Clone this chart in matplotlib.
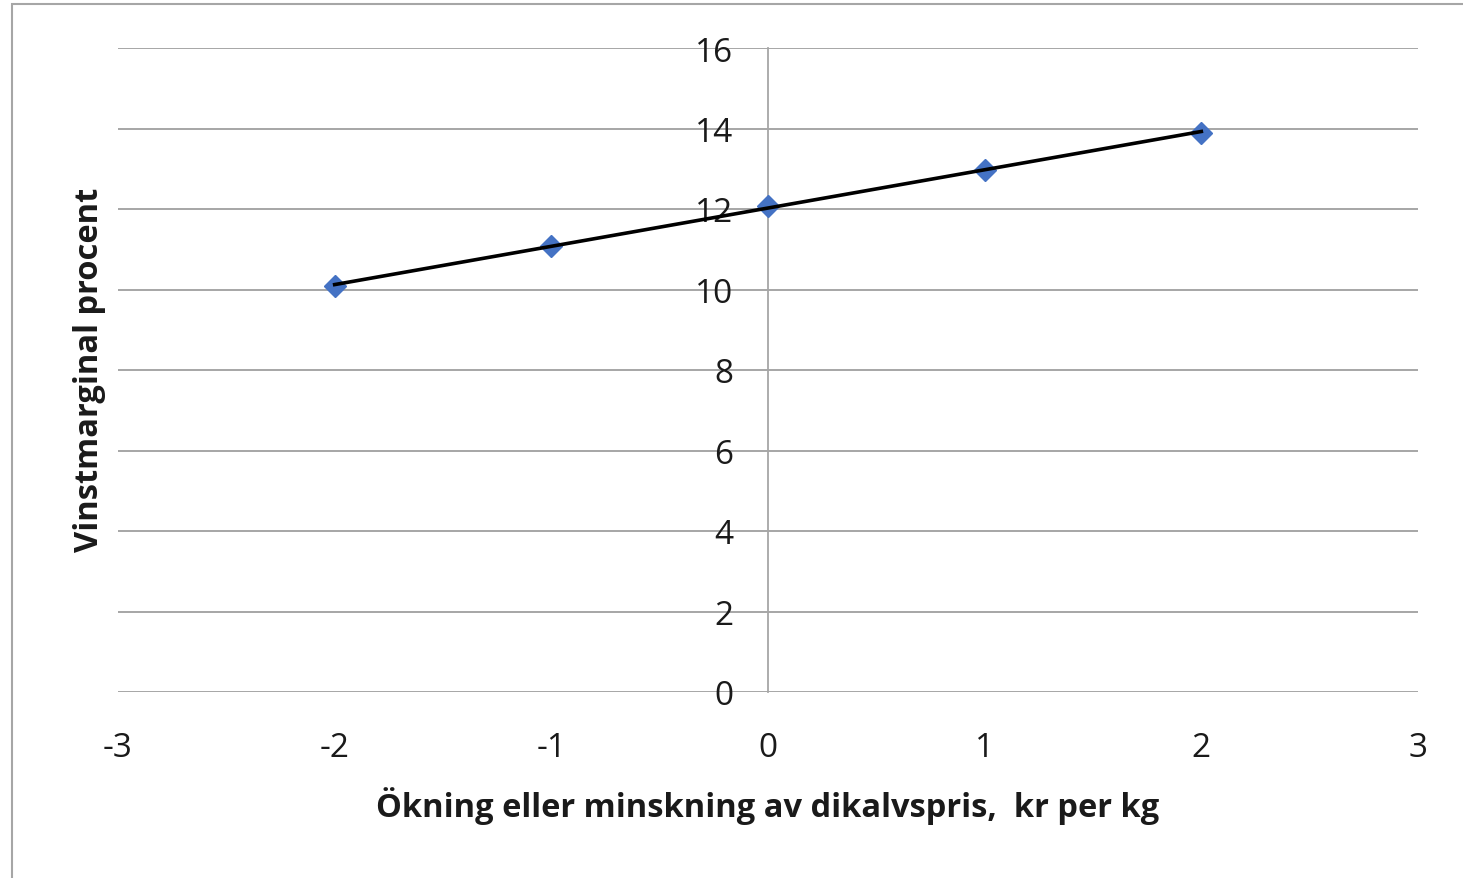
import numpy as np
import matplotlib
matplotlib.use("Agg")
import matplotlib.pyplot as plt
from matplotlib.patches import Rectangle

x_vals = [-2, -1, 0, 1, 2]
y_vals = [10.08, 11.09, 12.08, 12.98, 13.89]
x_ticks = [-3, -2, -1, 0, 1, 2, 3]
y_ticks = [0, 2, 4, 6, 8, 10, 12, 14, 16]
xlabel = "Ökning eller minskning av dikalvspris,  kr per kg"
ylabel = "Vinstmarginal procent"

plt.rcParams['font.family'] = ['Open Sans', 'DejaVu Sans']

W, H = 1463, 879
fig = plt.figure(figsize=(W/100, H/100), dpi=100)
fig.patches.append(Rectangle((12/W, -0.1), 1.2, 1 - 5/H + 0.1, transform=fig.transFigure,
                             fill=False, edgecolor='#a6a6a6', linewidth=1.5))

ax = fig.add_axes([118/W, 1 - 693/H, (1418-118)/W, (693-49)/H])
ax.set_xlim(-3, 3)
ax.set_ylim(0, 16)
ax.set_xticks(x_ticks)
ax.set_yticks(y_ticks)
ax.set_xticklabels([str(t) for t in x_ticks])
ax.set_yticklabels([str(t) for t in y_ticks])

for s in ['top', 'right', 'bottom']:
    ax.spines[s].set_visible(False)
ax.spines['left'].set_position(('data', 0))
ax.spines['left'].set_color('#a6a6a6')
ax.spines['left'].set_linewidth(1.3)

ax.yaxis.grid(True, color='#a6a6a6', linewidth=1.4)
ax.set_axisbelow(True)
ax.tick_params(axis='y', length=0, pad=25, labelsize=24, labelcolor='#1a1a1a')
ax.tick_params(axis='x', length=0, pad=28, labelsize=24, labelcolor='#1a1a1a')

ax.plot(x_vals, y_vals, linestyle='none', marker='D', markersize=11,
        color='#4472C4', zorder=3)
coef = np.polyfit(x_vals, y_vals, 1)
xs = np.array([min(x_vals), max(x_vals)])
ax.plot(xs, np.polyval(coef, xs), color='black', linewidth=2.6, zorder=4)

fig.text(768/W, 1 - 806/H, xlabel, ha='center', va='center', fontsize=23.5,
         fontweight='bold', color='#1a1a1a')
fig.text(90/W, 1 - 370/H, ylabel, ha='center', va='center', fontsize=23.5,
         fontweight='bold', rotation=90, color='#1a1a1a')

fig.savefig('out.png', dpi=100)
